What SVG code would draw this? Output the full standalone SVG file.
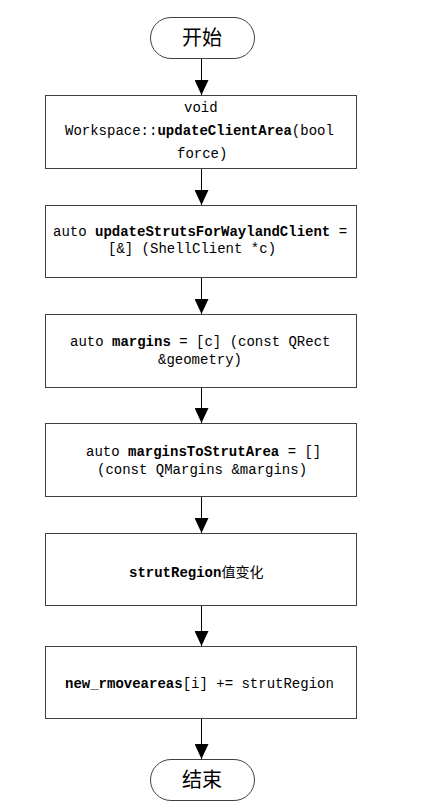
<svg xmlns="http://www.w3.org/2000/svg" width="425" height="812" viewBox="0 0 425 812">
<style>
.bg{fill:#ffffff}
.box{fill:#ffffff;stroke:#404040;stroke-width:1}
.term{fill:#ffffff;stroke:#404040;stroke-width:1}
.t{font-family:"Liberation Mono","Noto Sans CJK SC",monospace;font-size:14px;fill:#000}
.b{font-weight:bold}
.tt{font-family:"Noto Sans CJK SC","Noto Sans",sans-serif;font-size:20px;fill:#000;text-anchor:middle}
.c{stroke:#000;stroke-width:1;fill:none;marker-end:url(#ah)}
</style>
<defs>
<marker id="ah" markerUnits="userSpaceOnUse" markerWidth="15" markerHeight="14" refX="15" refY="7" orient="auto" viewBox="0 0 15 14">
<path d="M0,0 L15,7 L0,14 z" fill="#000"/>
</marker>
</defs>
<rect class="bg" x="0" y="0" width="425" height="812"/>
<g id="connectors">
<line class="c" x1="201.5" y1="59" x2="201.5" y2="95"/>
<line class="c" x1="201.5" y1="169" x2="201.5" y2="205"/>
<line class="c" x1="201.5" y1="278" x2="201.5" y2="314"/>
<line class="c" x1="201.5" y1="388" x2="201.5" y2="423"/>
<line class="c" x1="201.5" y1="497" x2="201.5" y2="533"/>
<line class="c" x1="201.5" y1="606" x2="201.5" y2="646"/>
<line class="c" x1="201.5" y1="719" x2="201.5" y2="759"/>
</g>
<g id="start">
<rect class="term" x="150.5" y="17.5" width="104" height="41" rx="20.5"/>
<text class="tt" x="202" y="45">开始</text>
</g>
<g id="n1">
<rect class="box" x="45.5" y="95.5" width="311" height="73"/>
<text class="t" x="184" y="112">void</text>
<text class="t" x="65" y="135">Workspace::<tspan class="b">updateClientArea</tspan>(bool</text>
<text class="t" x="177" y="158">force)</text>
</g>
<g id="n2">
<rect class="box" x="45.5" y="205.5" width="311" height="72"/>
<text class="t" x="53" y="236">auto <tspan class="b">updateStrutsForWaylandClient</tspan> =</text>
<text class="t" x="108" y="253">[&amp;] (ShellClient *c)</text>
</g>
<g id="n3">
<rect class="box" x="45.5" y="314.5" width="311" height="73"/>
<text class="t" x="70" y="346">auto <tspan class="b">margins</tspan> = [c] (const QRect</text>
<text class="t" x="158" y="364">&amp;geometry)</text>
</g>
<g id="n4">
<rect class="box" x="45.5" y="423.5" width="311" height="73"/>
<text class="t" x="86" y="456">auto <tspan class="b">marginsToStrutArea</tspan> = []</text>
<text class="t" x="97" y="474">(const QMargins &amp;margins)</text>
</g>
<g id="n5">
<rect class="box" x="45.5" y="533.5" width="311" height="72"/>
<text class="t" x="129" y="577"><tspan class="b">strutRegion</tspan>值变化</text>
</g>
<g id="n6">
<rect class="box" x="45.5" y="646.5" width="311" height="72"/>
<text class="t" x="65" y="688"><tspan class="b">new_rmoveareas</tspan>[i] += strutRegion</text>
</g>
<g id="end">
<rect class="term" x="150.5" y="759.5" width="104" height="41" rx="20.5"/>
<text class="tt" x="202" y="787">结束</text>
</g>
</svg>
